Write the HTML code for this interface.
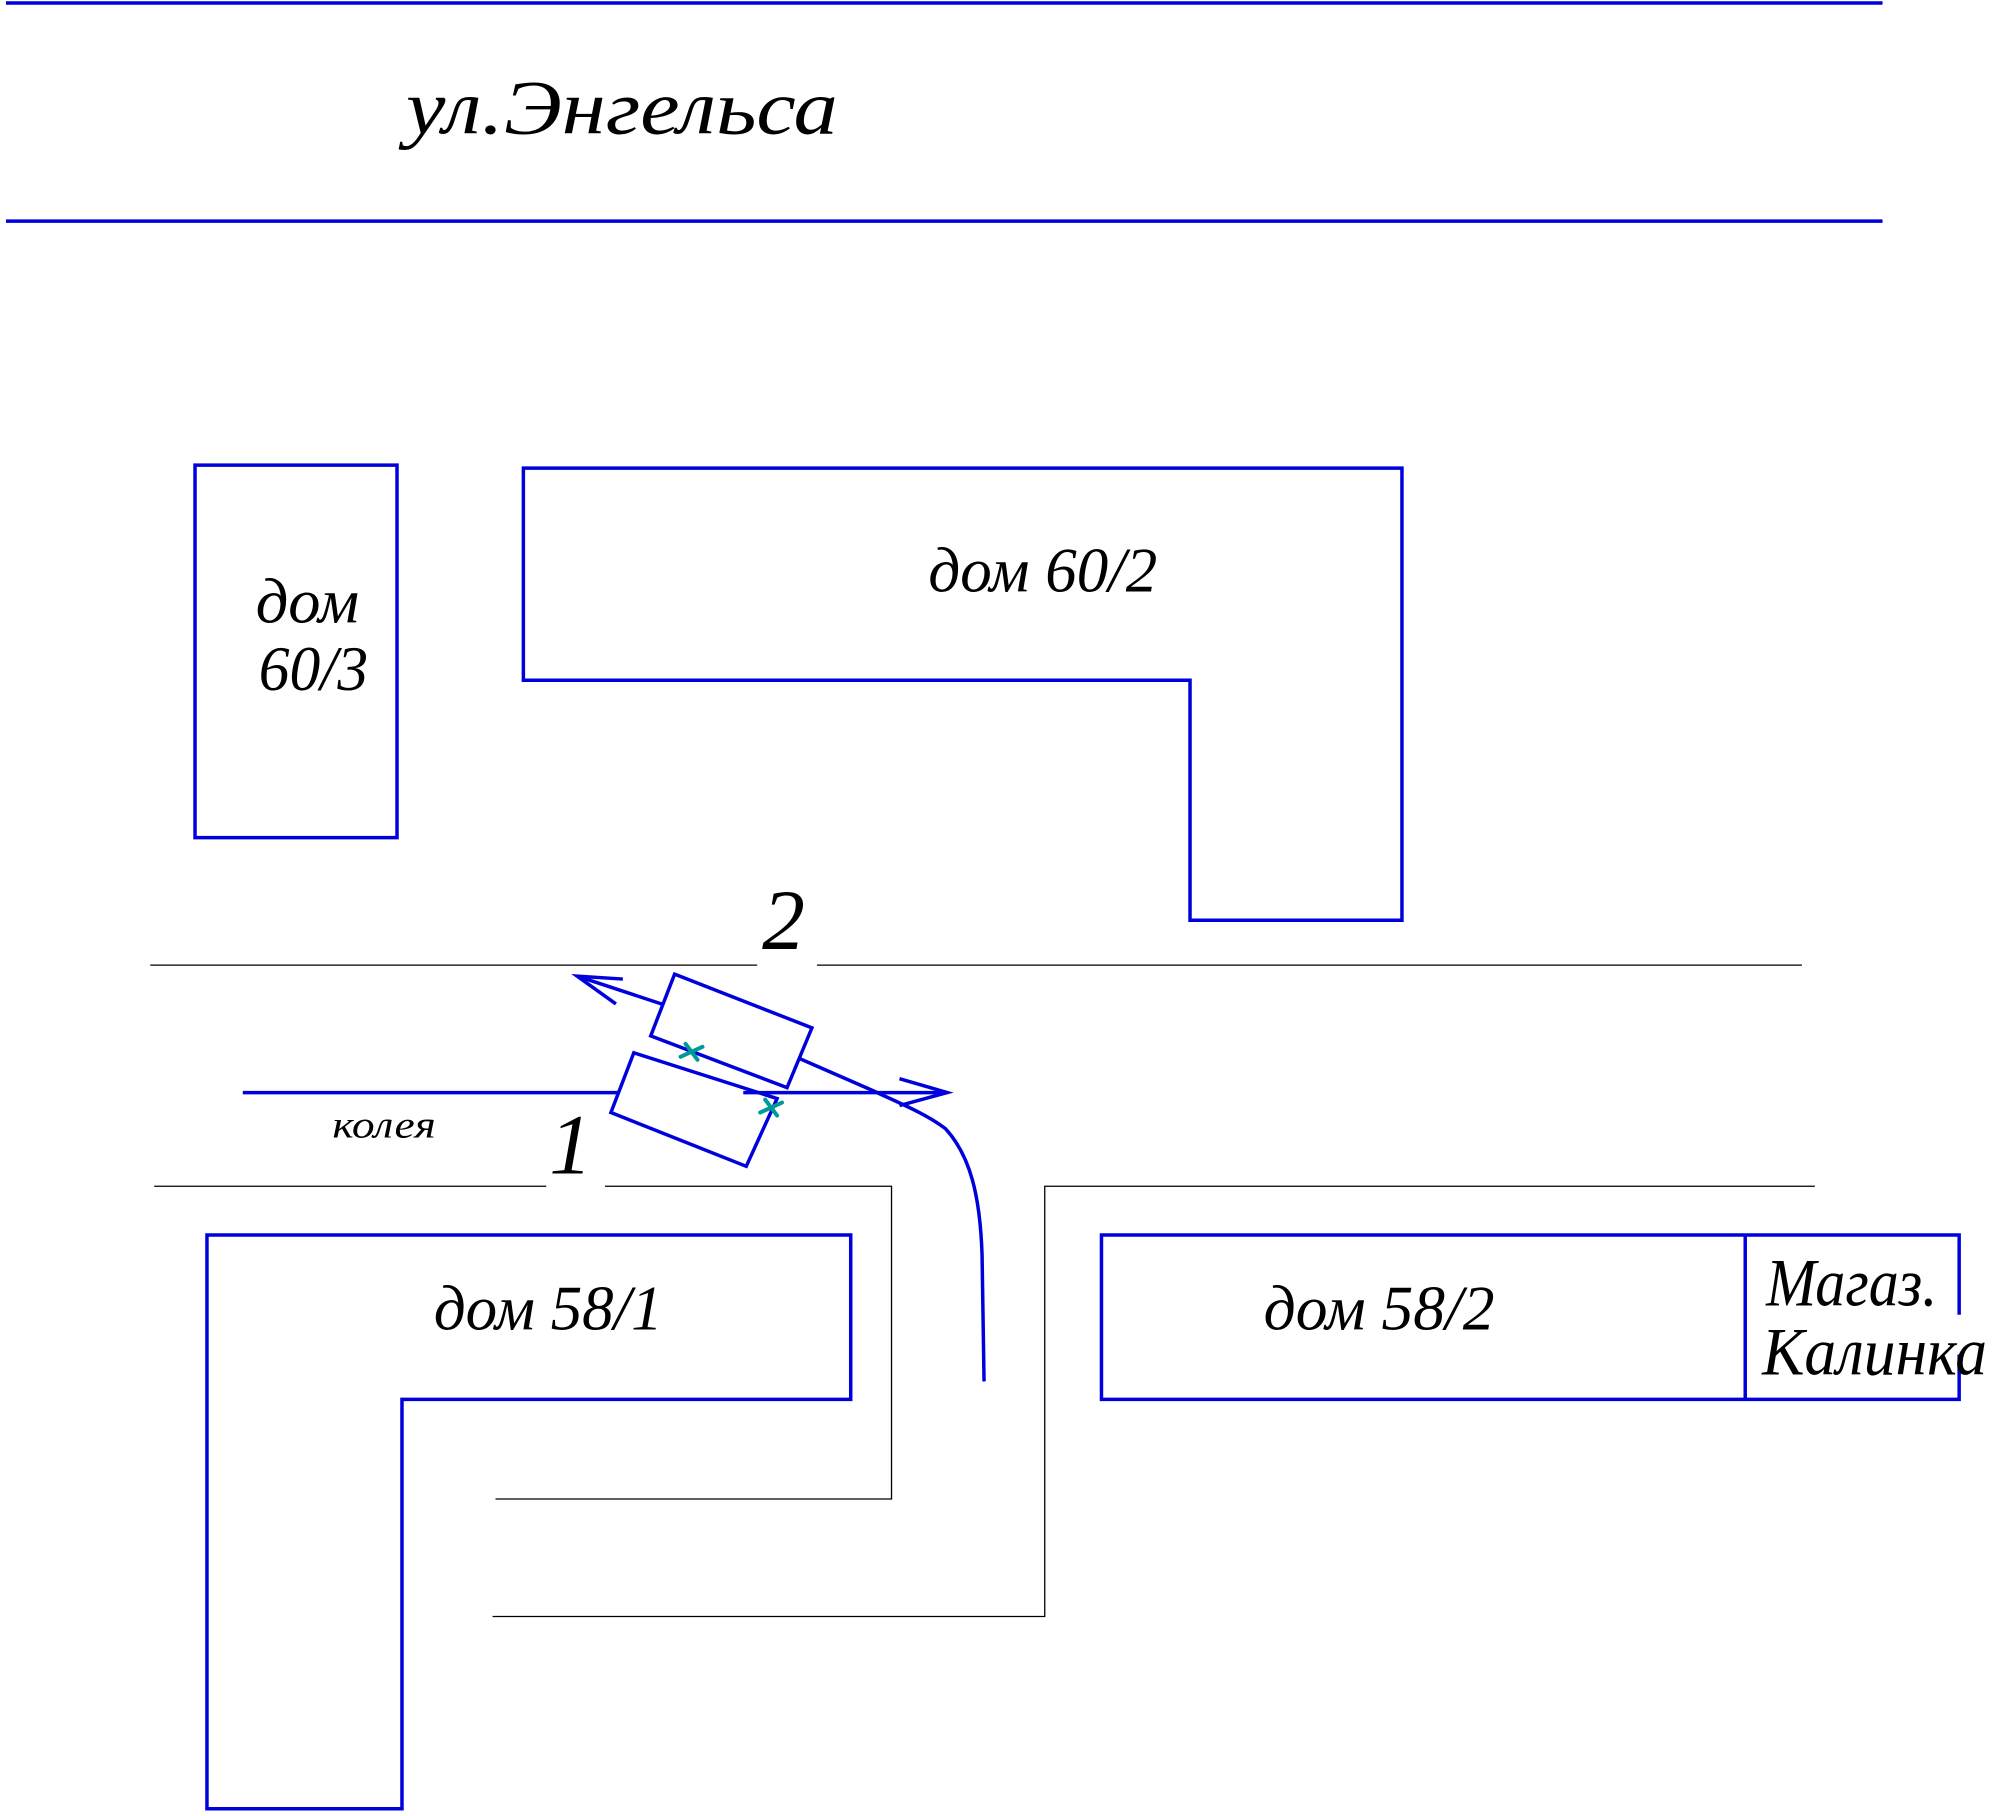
<!DOCTYPE html>
<html><head><meta charset="utf-8"><style>
html,body{margin:0;padding:0;background:#fff;}
svg{display:block;}
text{font-family:"Liberation Serif",serif;font-style:italic;fill:#000;}
</style></head><body>
<svg width="2002" height="1816" viewBox="0 0 2002 1816" xmlns="http://www.w3.org/2000/svg">
<g transform="scale(0.995,0.996)">
<g stroke="#0000dd" stroke-width="3.5" fill="none">
<line x1="6" y1="3" x2="1892" y2="3"/>
<line x1="6" y1="222" x2="1892" y2="222"/>
<rect x="196" y="467" width="203" height="374"/>
<polygon points="526,470 1409,470 1409,924 1196,924 1196,683 526,683"/>
<polygon points="208,1240 855,1240 855,1405 404,1405 404,1816 208,1816"/>
<polyline points="1969,1320 1969,1240 1107,1240 1107,1405 1969,1405 1969,1360"/>
<line x1="1754" y1="1240" x2="1754" y2="1405"/>
<polygon points="678,978 816,1032 791,1092 654,1040"/>
<polygon points="637,1057 781,1103 750,1171 614,1117"/>
<line x1="244" y1="1097" x2="622" y2="1097"/>
<line x1="747" y1="1097" x2="952" y2="1097"/>
<polyline points="904,1083 952,1097 904,1110"/>
<line x1="665" y1="1008" x2="580" y2="980"/>
<polyline points="626,983 580,980 619,1008"/>
<path d="M804,1063 L875,1094 C905,1108 930,1118 950,1133 C975,1160 985,1200 987,1260 L989,1387"/>
</g>
<g stroke="#009999" stroke-width="4" stroke-linecap="round">
<line x1="689" y1="1048" x2="701" y2="1064"/><line x1="684" y1="1061" x2="706" y2="1051"/>
<line x1="769" y1="1104" x2="781" y2="1120"/><line x1="764" y1="1117" x2="786" y2="1107"/>
</g>
<g stroke="#000" stroke-width="1.3" fill="none">
<line x1="151" y1="969" x2="761" y2="969"/>
<line x1="821" y1="969" x2="1811" y2="969"/>
<line x1="155" y1="1191" x2="549" y2="1191"/>
<polyline points="608,1191 896,1191 896,1505 498,1505"/>
<polyline points="1824,1191 1050,1191 1050,1623 495,1623"/>
</g>
<text x="408" y="134" font-size="78" textLength="434" lengthAdjust="spacingAndGlyphs">ул.Энгельса</text>
<text x="257" y="625" font-size="64" textLength="104" lengthAdjust="spacingAndGlyphs">дом</text>
<text x="260" y="693" font-size="64" textLength="110" lengthAdjust="spacingAndGlyphs">60/3</text>
<text x="933" y="594" font-size="64" textLength="230" lengthAdjust="spacingAndGlyphs">дом 60/2</text>
<text x="766" y="953" font-size="86">2</text>
<text x="552" y="1178" font-size="86">1</text>
<text x="334" y="1142" font-size="38" textLength="104" lengthAdjust="spacingAndGlyphs">колея</text>
<text x="436" y="1335" font-size="64" textLength="230" lengthAdjust="spacingAndGlyphs">дом 58/1</text>
<text x="1270" y="1335" font-size="64" textLength="232" lengthAdjust="spacingAndGlyphs">дом 58/2</text>
<text x="1775" y="1311" font-size="68" textLength="172" lengthAdjust="spacingAndGlyphs">Магаз.</text>
<text x="1771" y="1380" font-size="68" textLength="226" lengthAdjust="spacingAndGlyphs">Калинка</text>
</g>
</svg>
</body></html>
